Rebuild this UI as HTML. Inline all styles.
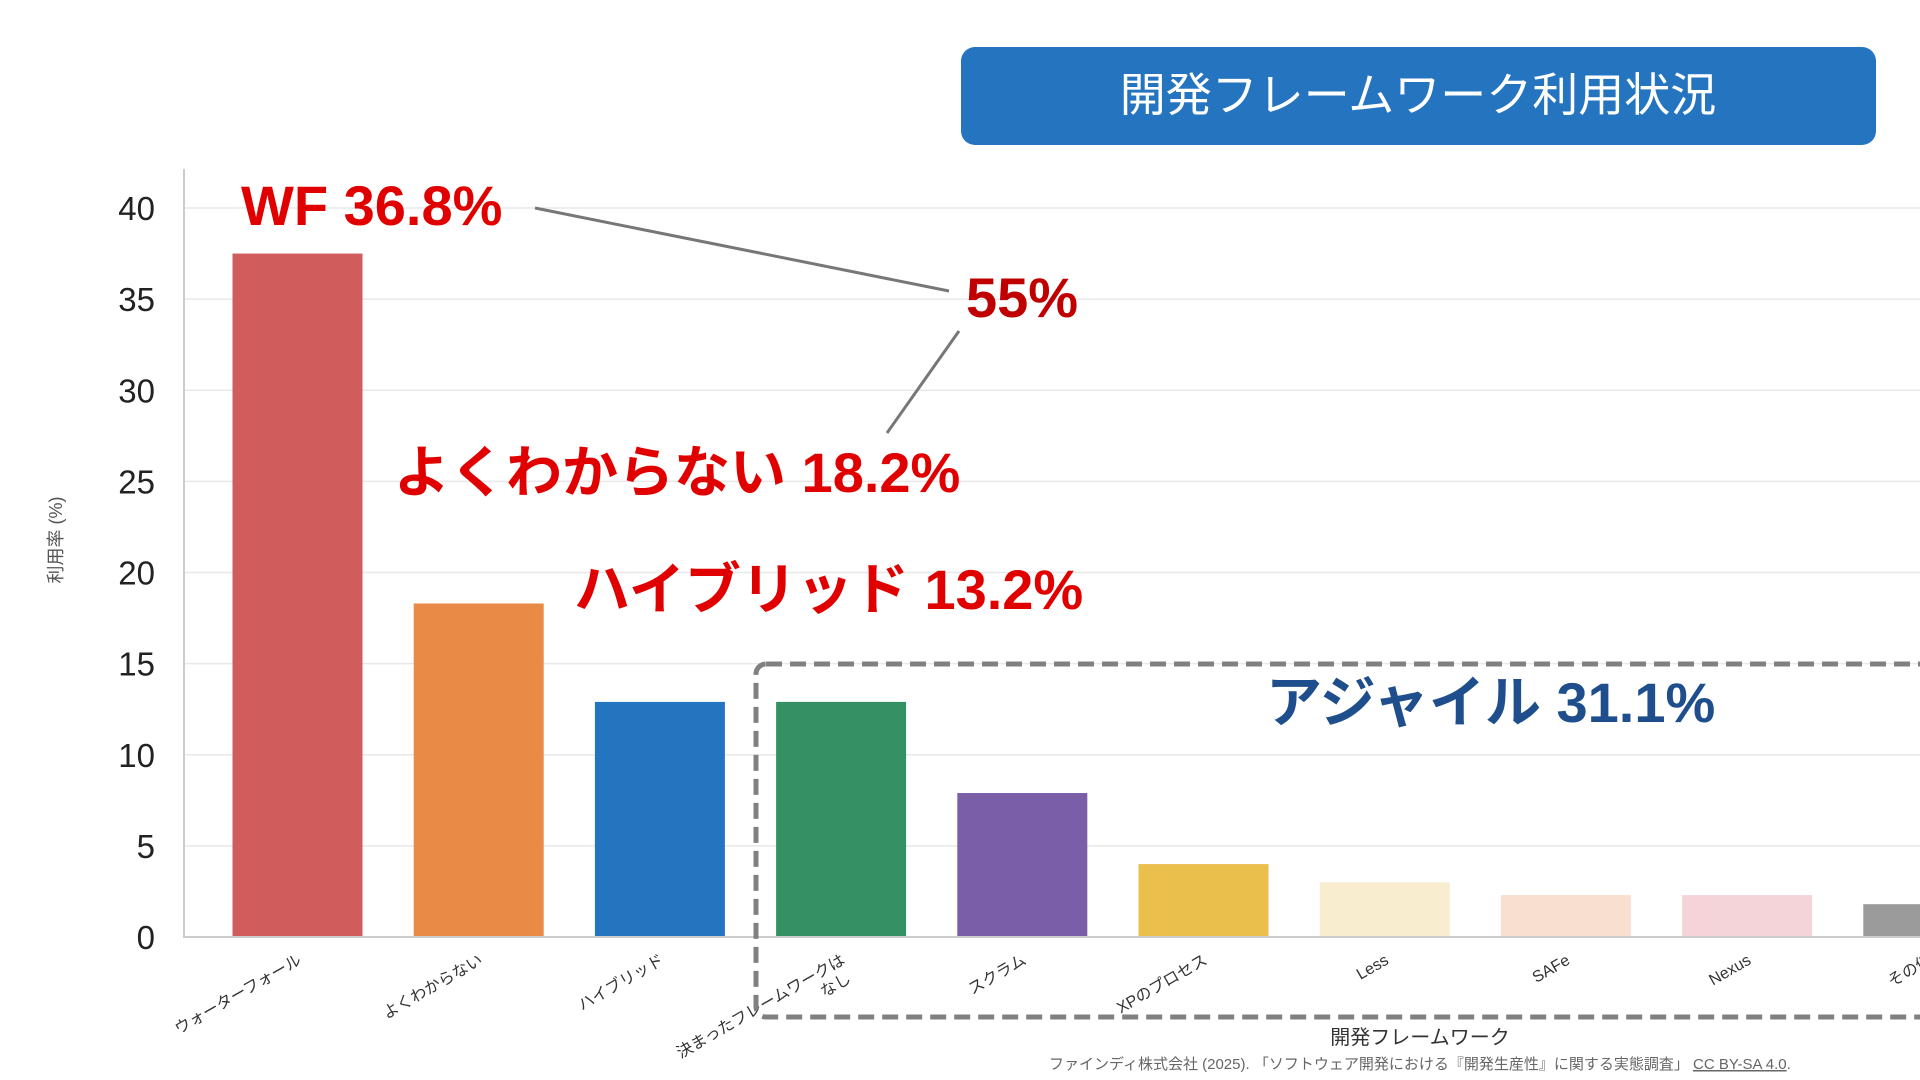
<!DOCTYPE html>
<html><head><meta charset="utf-8">
<style>
html,body{margin:0;padding:0;background:#fff;width:1920px;height:1080px;overflow:hidden}
svg{display:block}
text{font-family:"Liberation Sans","Noto Sans CJK JP",sans-serif}
</style></head>
<body>
<svg id="chart" width="1920" height="1080" viewBox="0 0 1920 1080" xmlns="http://www.w3.org/2000/svg">
  <rect x="961" y="47" width="915" height="98" rx="14" fill="#2474bf"/>
  <text x="1418" y="111" font-size="46" fill="#fff" text-anchor="middle">開発フレームワーク利用状況</text>
  <g id="grid"></g>
  <g id="bars"></g>
  <g id="xlabels"></g>
  <g id="yticks"></g>
  <line x1="184" y1="169" x2="184" y2="938" stroke="#ccc" stroke-width="2"/>
  <line x1="184" y1="937" x2="1920" y2="937" stroke="#ccc" stroke-width="2"/>
  <text transform="translate(62,540) rotate(-90)" font-size="18" fill="#555" text-anchor="middle">利用率 (%)</text>
  <text x="1420" y="1044" font-size="20" fill="#333" text-anchor="middle">開発フレームワーク</text>
  <text x="1049" y="1069" font-size="15" fill="#666">ファインディ株式会社 (2025). 「ソフトウェア開発における『開発生産性』に関する実態調査」 <tspan text-decoration="underline">CC BY-SA 4.0</tspan>.</text>
  <rect x="756" y="664" width="1200" height="353" rx="10" fill="none" stroke="#808080" stroke-width="5" stroke-dasharray="16 8"/>
  <text x="1266" y="722" font-size="56" font-weight="bold" fill="#1f4e8c">アジャイル 31.1%</text>
  <line x1="535" y1="208" x2="949" y2="291" stroke="#777" stroke-width="3"/>
  <line x1="959" y1="331" x2="887" y2="433" stroke="#777" stroke-width="3"/>
  <text x="241" y="225" font-size="56" font-weight="bold" fill="#e00000">WF 36.8%</text>
  <text x="966" y="317" font-size="56" font-weight="bold" fill="#c00000">55%</text>
  <text x="394" y="492" font-size="56" font-weight="bold" fill="#e00000">よくわからない 18.2%</text>
  <text x="574" y="609" font-size="56" font-weight="bold" fill="#e00000">ハイブリッド 13.2%</text>
</svg>
<script>
const categories = ["ウォーターフォール","よくわからない","ハイブリッド","決まったフレームワークは\nなし","スクラム","XPのプロセス","Less","SAFe","Nexus","その他"];
const values = [37.5, 18.3, 12.9, 12.9, 7.9, 4.0, 3.0, 2.3, 2.3, 1.8];
const colors = ["#d05c5c","#e98a46","#2474bf","#359163","#7a5fa8","#ebbf4c","#f8edcf","#f9dfcf","#f4d4d8","#9b9b9b"];
const yTicks = [0,5,10,15,20,25,30,35,40];

const NS = "http://www.w3.org/2000/svg";
const y0 = 937, pxPerUnit = 729/40;
function yScale(v){ return y0 - v*pxPerUnit; }
const x0 = 297.5, pitch = 181.2, barW = 130;
function xScale(i){ return x0 + i*pitch; }
function mk(tag, attrs){ const e=document.createElementNS(NS,tag); for(const k in attrs) e.setAttribute(k,attrs[k]); return e; }

const grid=document.getElementById('grid'), yt=document.getElementById('yticks');
yTicks.forEach(t=>{
  const l=mk('line',{x1:184,x2:1920,y1:yScale(t),y2:yScale(t),stroke:'#e8e8e8','stroke-width':1.5});
  
  
  grid.appendChild(l);
  const tx=mk('text',{x:155,y:yScale(t)+12,'font-size':33,fill:'#222','text-anchor':'end'});
  tx.textContent=String(t);
  
  
  yt.appendChild(tx);
});

const bars=document.getElementById('bars'), xl=document.getElementById('xlabels');
values.forEach((v,i)=>{
  const cx=xScale(i);
  const r=mk('rect',{x:cx-barW/2,y:yScale(v),width:barW,height:y0-yScale(v),fill:colors[i]});
  
  
  bars.appendChild(r);
  const lines=categories[i].split('\n');
  const t=mk('text',{transform:`translate(${cx-2},${y0+14}) rotate(-30)`,'font-size':16,fill:'#333','text-anchor':'end'});
  lines.forEach((ln,j)=>{
    const ts=mk('tspan',{x:j===0?0:-4,dy:j===0?14:19});
    ts.textContent=ln;
    t.appendChild(ts);
  });
  
  
  xl.appendChild(t);
});
</script>
</body></html>
